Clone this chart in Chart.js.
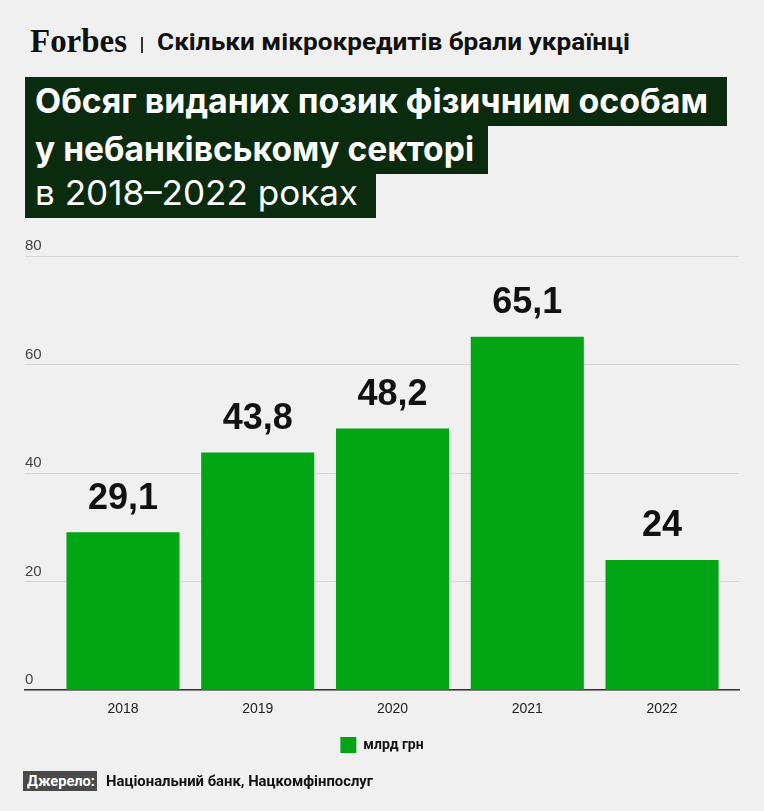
<!DOCTYPE html>
<html>
<head>
<meta charset="utf-8">
<script src="https://cdn.jsdelivr.net/npm/chart.js@4.4.1/dist/chart.umd.min.js"></script>
<style>
  html, body { margin: 0; padding: 0; background: #f0f0f0; }
  body { width: 764px; height: 811px; position: relative; overflow: hidden; font-family: Inter, Roboto, "Liberation Sans", sans-serif; }
  .abs { position: absolute; white-space: nowrap; }
  .fit { display: inline-block; transform-origin: 0 0; }
  #logo { left: 30px; top: 21px; font-family: "Liberation Serif", "DejaVu Serif", serif; font-weight: 700; font-size: 34px; color: #111; line-height: 40px; }
  #sep { left: 141px; top: 37px; width: 1.5px; height: 16px; background: #333; }
  #sub { left: 157px; top: 26px; font-family: Roboto, sans-serif; font-weight: 700; font-size: 24px; line-height: 32px; color: #111; }
  .tbox { position: absolute; left: 25px; background: #0b2b0f; }
  .ttext { position: absolute; left: 35px; color: #fff; font-family: Inter, Roboto, sans-serif; font-size: 34px; white-space: nowrap; line-height: 40px; }
  #src-label { left: 23px; top: 771px; width: 74px; height: 20px; background: #4a4a4a; }
  #src-label-t { left: 27px; top: 771px; color: #fff; font-family: Roboto, sans-serif; font-weight: 700; font-size: 15px; line-height: 20px; }
  #src-t { left: 106px; top: 771px; color: #111; font-family: Roboto, sans-serif; font-weight: 700; font-size: 15px; line-height: 20px; }
  #wrap { position: absolute; left: 0; top: 230px; width: 764px; height: 560px; }
</style>
</head>
<body>
<div id="logo" class="abs"><span class="fit" data-w="97">Forbes</span></div>
<div id="sep" class="abs"></div>
<div id="sub" class="abs"><span class="fit" data-w="473">Скільки мікрокредитів брали українці</span></div>

<div class="tbox" style="top:77px; width:702px; height:49px;"></div>
<div class="tbox" style="top:125px; width:463px; height:49px;"></div>
<div class="tbox" style="top:173px; width:351px; height:45px;"></div>
<div class="ttext" style="top:81px; font-weight:700;"><span class="fit" data-w="673">Обсяг виданих позик фізичним особам</span></div>
<div class="ttext" style="top:129px; font-weight:700;"><span class="fit" data-w="439">у небанківському секторі</span></div>
<div class="ttext" style="top:173px; font-weight:400;"><span class="fit" data-w="323">в 2018–2022 роках</span></div>

<div id="wrap"><canvas id="c"></canvas></div>

<div id="src-label" class="abs"></div>
<div id="src-label-t" class="abs"><span class="fit" data-w="68">Джерело:</span></div>
<div id="src-t" class="abs"><span class="fit" data-w="267">Національний банк, Нацкомфінпослуг</span></div>

<script>
// ---- data ----
const categories = ["2018", "2019", "2020", "2021", "2022"];
const loanVolumes = [29.1, 43.8, 48.2, 65.1, 24];
const seriesLabel = "млрд грн";
const yTicks = [0, 20, 40, 60, 80];

// fit text widths
document.querySelectorAll('.fit').forEach(el => {
  const w = el.getBoundingClientRect().width;
  const target = parseFloat(el.dataset.w);
  if (w > 0) el.style.transform = 'scaleX(' + (target / w) + ')';
});

const GREEN = '#02a514';

const valueLabels = {
  id: 'valueLabels',
  afterDatasetsDraw(chart) {
    const ctx = chart.ctx;
    const meta = chart.getDatasetMeta(0);
    ctx.save();
    ctx.font = '700 36px "Liberation Sans", Arial, sans-serif';
    ctx.fillStyle = '#111';
    ctx.textAlign = 'center';
    ctx.textBaseline = 'alphabetic';
    meta.data.forEach((bar, i) => {
      const txt = String(loanVolumes[i]).replace('.', ',');
      ctx.fillText(txt, bar.x, bar.y - 23.5);
    });
    ctx.restore();
  }
};

new Chart(document.getElementById('c'), {
  type: 'bar',
  data: {
    datasets: [{
      label: seriesLabel,
      data: loanVolumes.map((v, i) => ({ x: i, y: v })),
      backgroundColor: GREEN,
      borderWidth: 0,
      categoryPercentage: 1,
      barPercentage: 0.839
    }]
  },
  options: {
    responsive: true,
    maintainAspectRatio: false,
    animation: false,
    layout: { padding: { left: 25, right: 25, top: 26, bottom: 27 } },
    plugins: {
      tooltip: { enabled: false },
      legend: {
        position: 'bottom',
        labels: {
          boxWidth: 16, boxHeight: 16, padding: 8,
          color: '#111',
          font: { family: 'Roboto, sans-serif', weight: '700', size: 14 }
        }
      }
    },
    scales: {
      x: {
        type: 'linear',
        offset: false,
        min: -0.727,
        max: 4.571,
        afterBuildTicks(scale) { scale.ticks = categories.map((c, i) => ({ value: i })); },
        grid: { display: false, drawTicks: false },
        border: { display: true, color: '#333', width: 1.5 },
        ticks: {
          autoSkip: false,
          padding: 11,
          color: '#222',
          font: { family: '"Liberation Sans", Arial, sans-serif', size: 14 },
          callback: (v) => categories[v]
        }
      },
      y: {
        min: 0, max: 80,
        afterBuildTicks(scale) { scale.ticks = yTicks.map(v => ({ value: v })); },
        grid: { color: '#d6d6d6', lineWidth: 1, drawTicks: false },
        border: { display: false },
        ticks: {
          mirror: true,
          padding: 0,
          labelOffset: -10,
          color: '#444',
          font: { family: '"Liberation Sans", Arial, sans-serif', size: 15 }
        }
      }
    }
  },
  plugins: [valueLabels]
});
</script>
</body>
</html>
